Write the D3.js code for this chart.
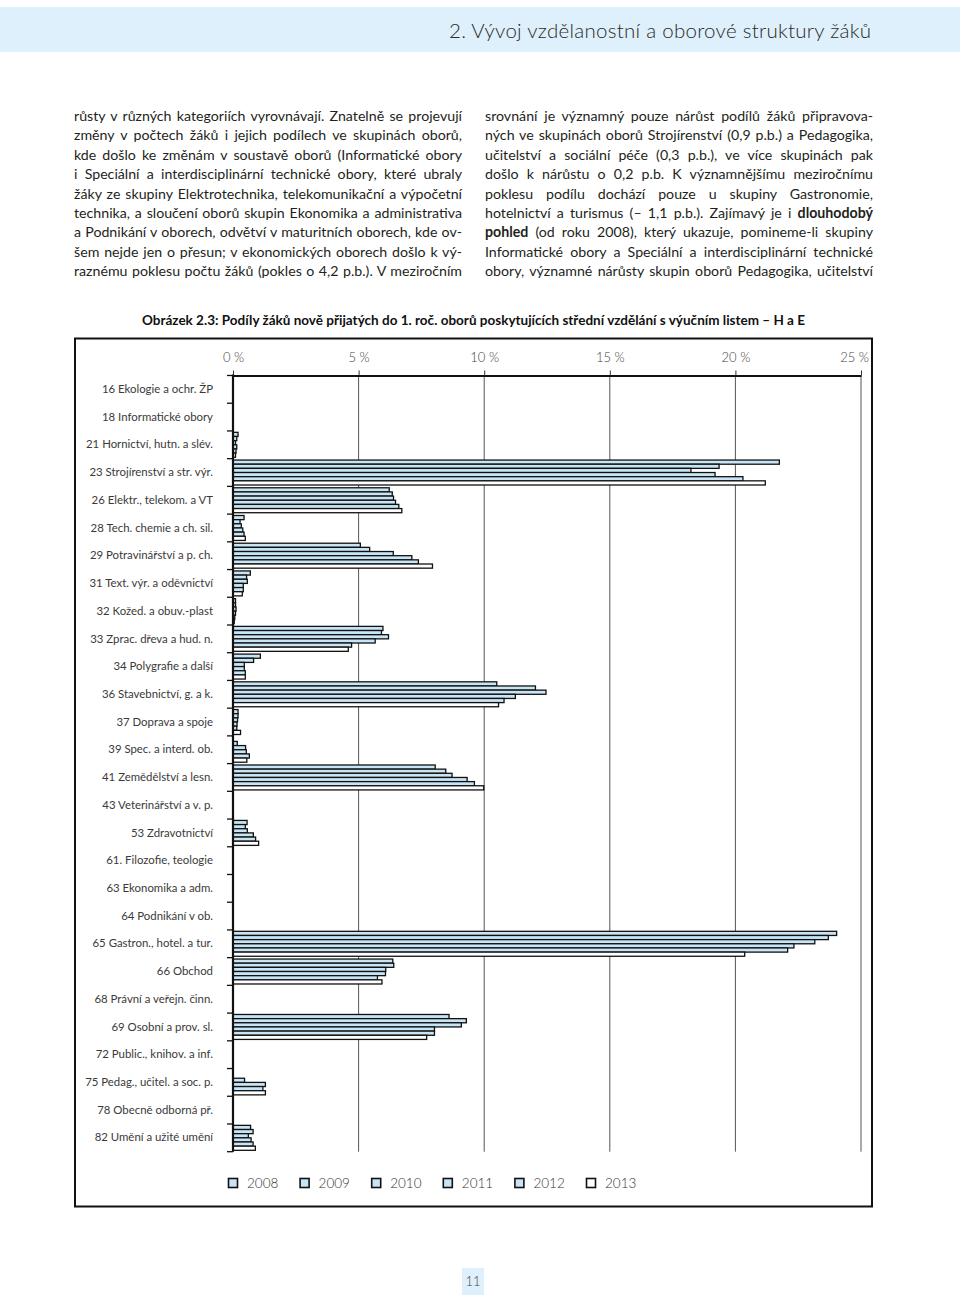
<!DOCTYPE html>
<html><head><meta charset="utf-8">
<script src="https://cdn.jsdelivr.net/npm/d3@7"></script>
<style>body{margin:0;background:#fff}svg{display:block}</style>
</head><body><div id="page"></div>
<script>
// ---------- DATA ----------
const categories = [
  "16 Ekologie a ochr. ŽP","18 Informatické obory","21 Hornictví, hutn. a slév.",
  "23 Strojírenství a str. výr.","26 Elektr., telekom. a VT","28 Tech. chemie a ch. sil.",
  "29 Potravinářství a p. ch.","31 Text. výr. a oděvnictví","32 Kožed. a obuv.-plast",
  "33 Zprac. dřeva a hud. n.","34 Polygrafie a další","36 Stavebnictví, g. a k.",
  "37 Doprava a spoje","39 Spec. a interd. ob.","41 Zemědělství a lesn.",
  "43 Veterinářství a v. p.","53 Zdravotnictví","61. Filozofie, teologie",
  "63 Ekonomika a adm.","64 Podnikání v ob.","65 Gastron., hotel. a tur.",
  "66 Obchod","68 Právní a veřejn. činn.","69 Osobní a prov. sl.",
  "72 Public., knihov. a inf.","75 Pedag., učitel. a soc. p.","78 Obecně odborná př.",
  "82 Umění a užité umění"
];
const years = ["2008","2009","2010","2011","2012","2013"];
const v2008 = [0,0,0.20,21.75,6.22,0.44,5.07,0.69,0.10,5.97,1.09,10.50,0.20,0,8.05,0,0.56,0,0,0,24.03,6.36,0,8.60,0,0,0,0.70];
const v2009 = [0,0,0.15,19.35,6.34,0.28,5.44,0.54,0.10,5.91,0.82,12.04,0.20,0.17,8.47,0,0.49,0,0,0,23.70,6.40,0,9.29,0,0,0,0.80];
const v2010 = [0,0,0.10,18.23,6.39,0.33,6.38,0.57,0.12,6.19,0.45,12.46,0.18,0.50,8.72,0,0.57,0,0,0,23.16,6.08,0,9.09,0,0.46,0,0.61];
const v2011 = [0,0,0.15,19.19,6.47,0.39,7.12,0.41,0.10,5.66,0.45,11.24,0.16,0.53,9.32,0,0.81,0,0,0,22.33,6.07,0,8.02,0,1.29,0,0.72];
const v2012 = [0,0,0.12,20.30,6.60,0.44,7.38,0.41,0.07,4.72,0.49,10.79,0.15,0.65,9.61,0,0.90,0,0,0,22.08,5.75,0,8.02,0,1.19,0,0.80];
const v2013 = [0,0,0.10,21.19,6.72,0.49,7.94,0.37,0.05,4.59,0.49,10.57,0.30,0.55,9.98,0,1.02,0,0,0,20.37,5.93,0,7.71,0,1.29,0,0.89];
const seriesValues = [v2008,v2009,v2010,v2011,v2012,v2013];
const seriesFills = ["#c8e5f6","#c8e5f6","#c8e5f6","#c8e5f6","#c8e5f6","#ffffff"];
const axisTicks = [0,5,10,15,20,25];
const tickLabels = ["0 %","5 %","10 %","15 %","20 %","25 %"];

const headerText = "2. Vývoj vzdělanostní a oborové struktury žáků";
const chartTitle = "Obrázek 2.3: Podíly žáků nově přijatých do 1. roč. oborů poskytujících střední vzdělání s výučním listem – H a E";
const pageNumber = "11";
const leftLines = [
  [["růsty v různých kategoriích vyrovnávají. Znatelně se projevují",0]],
  [["změny v počtech žáků i jejich podílech ve skupinách oborů,",0]],
  [["kde došlo ke změnám v soustavě oborů (Informatické obory",0]],
  [["i Speciální a interdisciplinární technické obory, které ubraly",0]],
  [["žáky ze skupiny Elektrotechnika, telekomunikační a výpočetní",0]],
  [["technika, a sloučení oborů skupin Ekonomika a administrativa",0]],
  [["a Podnikání v oborech, odvětví v maturitních oborech, kde ov-",0]],
  [["šem nejde jen o přesun; v ekonomických oborech došlo k vý-",0]],
  [["raznému poklesu počtu žáků (pokles o 4,2 p.b.). V meziročním",0]]
];
const rightLines = [
  [["srovnání je významný pouze nárůst podílů žáků připravova-",0]],
  [["ných ve skupinách oborů Strojírenství (0,9 p.b.) a Pedagogika,",0]],
  [["učitelství a sociální péče (0,3 p.b.), ve více skupinách pak",0]],
  [["došlo k nárůstu o 0,2 p.b. K významnějšímu meziročnímu",0]],
  [["poklesu podílu dochází pouze u skupiny Gastronomie,",0]],
  [["hotelnictví a turismus (– 1,1 p.b.). Zajímavý je i ",0],["dlouhodobý",1]],
  [["pohled",1],[" (od roku 2008), který ukazuje, pomineme-li skupiny",0]],
  [["Informatické obory a Speciální a interdisciplinární technické",0]],
  [["obory, významné nárůsty skupin oborů Pedagogika, učitelství",0]]
];

// ---------- PAGE ----------
const W = 960, H = 1295;
const FONT = "Lato, 'Open Sans', sans-serif";
const svg = d3.select("#page").append("svg").attr("width", W).attr("height", H);

svg.append("rect").attr("x",0).attr("y",7).attr("width",W).attr("height",45).attr("fill","#def0fb");
svg.append("text").attr("x",871).attr("y",38).attr("text-anchor","end")
  .attr("font-family",FONT).attr("font-weight",300).attr("font-size",20.5).attr("fill","#2a2a2a")
  .attr("textLength",422).attr("lengthAdjust","spacing").text(headerText);

function writeColumn(lines, x, width){
  lines.forEach((segs,i)=>{
    const t = svg.append("text").attr("x",x).attr("y",121+i*19.4)
      .attr("font-family",FONT).attr("font-size",14.2).attr("fill","#231f20");
    segs.forEach(s=>{
      t.append("tspan").attr("font-weight", s[1]?700:400).text(s[0]);
    });
    const natural = t.node().getComputedTextLength();
    const full = segs.map(s=>s[0]).join("");
    const spaces = (full.match(/ /g)||[]).length;
    if (spaces>0) t.attr("word-spacing", (width-natural)/spaces);
  });
}
writeColumn(leftLines, 74, 388);
writeColumn(rightLines, 485, 388);

// chart title & frame
svg.append("text").attr("x",473.5).attr("y",325).attr("text-anchor","middle")
  .attr("font-family",FONT).attr("font-weight",700).attr("font-size",13.5).attr("fill","#111")
  .attr("textLength",663).attr("lengthAdjust","spacing").text(chartTitle);
svg.append("rect").attr("x",75).attr("y",338.5).attr("width",797).attr("height",868)
  .attr("fill","none").attr("stroke","#111").attr("stroke-width",2);

// ---------- CHART ----------
const x = d3.scaleLinear().domain([0,25]).range([233,861]);
const yTop = 375.5, yBot = 1151.7;
const y0 = d3.scaleBand().domain(categories).range([yTop,yBot]).paddingInner(0.1).paddingOuter(0.05);
const y1 = d3.scaleBand().domain(years).range([0,y0.bandwidth()]);

const g = svg.append("g");
// gridlines
g.selectAll("line.grid").data(axisTicks.filter(d=>d>0)).join("line").attr("class","grid")
  .attr("x1",d=>x(d)).attr("x2",d=>x(d)).attr("y1",yTop).attr("y2",yBot)
  .attr("stroke","#555").attr("stroke-width",1);

// bars
const rows = [];
categories.forEach((c,ci)=>years.forEach((yr,si)=>{
  const v = seriesValues[si][ci];
  if (v>0) rows.push({c, yr, v, fill: seriesFills[si]});
}));
g.selectAll("rect.bar").data(rows).join("rect").attr("class","bar")
  .attr("x",x(0)).attr("y",d=>y0(d.c)+y1(d.yr))
  .attr("width",d=>x(d.v)-x(0)).attr("height",y1.bandwidth())
  .attr("fill",d=>d.fill).attr("stroke","#111").attr("stroke-width",1.3);

// top value axis
const ax = g.append("g").attr("transform",`translate(0,${yTop})`)
  .call(d3.axisTop(x).tickValues(axisTicks).tickSize(5).tickSizeOuter(0).tickPadding(9)
        .tickFormat((d,i)=>tickLabels[i]));
ax.select(".domain").attr("stroke","#111").attr("stroke-width",2.2);
ax.selectAll(".tick line").attr("stroke","#333");
ax.selectAll(".tick text").attr("font-family",FONT).attr("font-weight",300).attr("font-size",13).attr("fill","#444")
  .attr("dx",(d,i)=> i===axisTicks.length-1 ? -7 : 0);

// left category axis
const ay = g.append("g").attr("transform",`translate(${x(0)},0)`)
  .call(d3.axisLeft(y0).tickSize(0).tickPadding(20));
ay.select(".domain").remove();
ay.selectAll(".tick text").attr("font-family",FONT).attr("font-size",11.4).attr("fill","#3a3a3a");
const bounds = d3.range(categories.length+1).map(i=>yTop + i*y0.step());
g.selectAll("line.ctick").data(bounds).join("line").attr("class","ctick")
  .attr("x1",x(0)-6).attr("x2",x(0)).attr("y1",d=>d).attr("y2",d=>d)
  .attr("stroke","#111").attr("stroke-width",1.3);
g.append("line").attr("x1",x(0)).attr("x2",x(0)).attr("y1",yTop-1).attr("y2",yBot)
  .attr("stroke","#111").attr("stroke-width",2.2);

// legend
const lg = svg.append("g").selectAll("g").data(years).join("g")
  .attr("transform",(d,i)=>`translate(${228.5+i*71.6},1178.5)`);
lg.append("rect").attr("width",9).attr("height",9).attr("fill",(d,i)=>seriesFills[i])
  .attr("stroke","#111").attr("stroke-width",1.6);
lg.append("text").attr("x",18.5).attr("y",9.5).attr("font-family",FONT).attr("font-weight",300).attr("font-size",13.5)
  .attr("fill","#333").text(d=>d);

// page number
svg.append("rect").attr("x",462).attr("y",1268).attr("width",22).attr("height",27).attr("fill","#def0fb");
svg.append("text").attr("x",473).attr("y",1286).attr("text-anchor","middle")
  .attr("font-family",FONT).attr("font-weight",300).attr("font-size",13).attr("fill","#444").text(pageNumber);
</script>
</body></html>
